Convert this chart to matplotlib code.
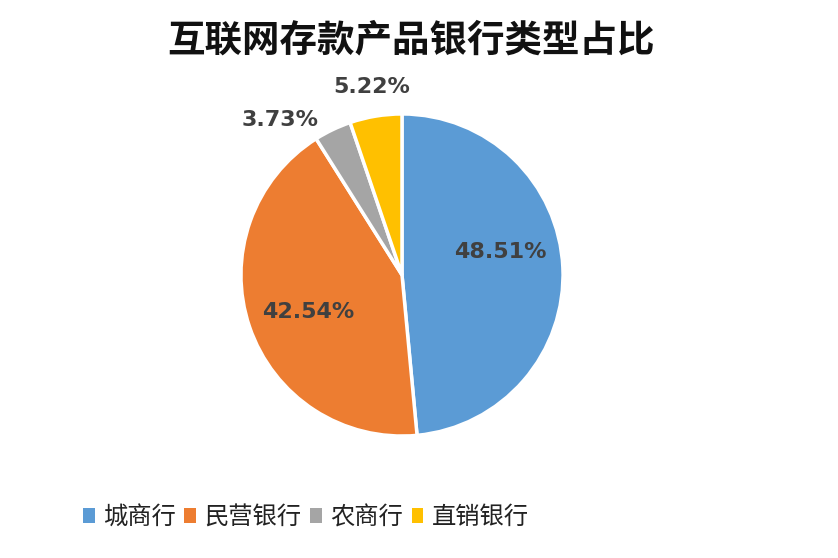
import matplotlib
matplotlib.use("Agg")
import matplotlib.pyplot as plt
from matplotlib.patches import Patch

plt.rcParams['font.family'] = ['Noto Sans CJK SC', 'DejaVu Sans']

# data
categories = ['城商行', '民营银行', '农商行', '直销银行']
shares = [48.51, 42.54, 3.73, 5.22]
colors = ['#5B9BD5', '#ED7D31', '#A5A5A5', '#FFC000']
title = '互联网存款产品银行类型占比'

fig = plt.figure(figsize=(8.38, 5.58), dpi=100)
fig.patch.set_facecolor('white')

# pie axes, centre placed where the reference pie sits
ax = fig.add_axes([202 / 838, 83 / 558, 400 / 838, 400 / 558])
wedges, texts, autotexts = ax.pie(
    shares, colors=colors, startangle=90, counterclock=False,
    autopct='%.2f%%', pctdistance=0.62,
    wedgeprops=dict(edgecolor='white', linewidth=2.5),
    textprops=dict(fontsize=16, fontweight='bold', color='#404040',
                   family=['DejaVu Sans']))
ax.set_xlim(-1.242, 1.242)
ax.set_ylim(-1.242, 1.242)
ax.set_aspect('equal')
ax.axis('off')

# small slices get their labels outside the pie
autotexts[0].set_position((0.61, 0.14))
autotexts[1].set_position((-0.58, -0.23))
autotexts[2].set_position((-0.76, 0.96))
autotexts[3].set_position((-0.19, 1.17))

fig.text(0.49, 0.928, title, ha='center', va='center', fontsize=27,
         fontweight='bold', color='#111111')

handles = [Patch(facecolor=c, edgecolor='none') for c in colors]
fig.legend(handles, categories, loc='center', bbox_to_anchor=(0.365, 0.073),
           ncol=4, frameon=False, fontsize=17.5, handlelength=0.48,
           handleheight=0.55, handletextpad=0.35, columnspacing=0.35,
           labelcolor='#222222')

fig.savefig('out.png', dpi=100, facecolor='white')
